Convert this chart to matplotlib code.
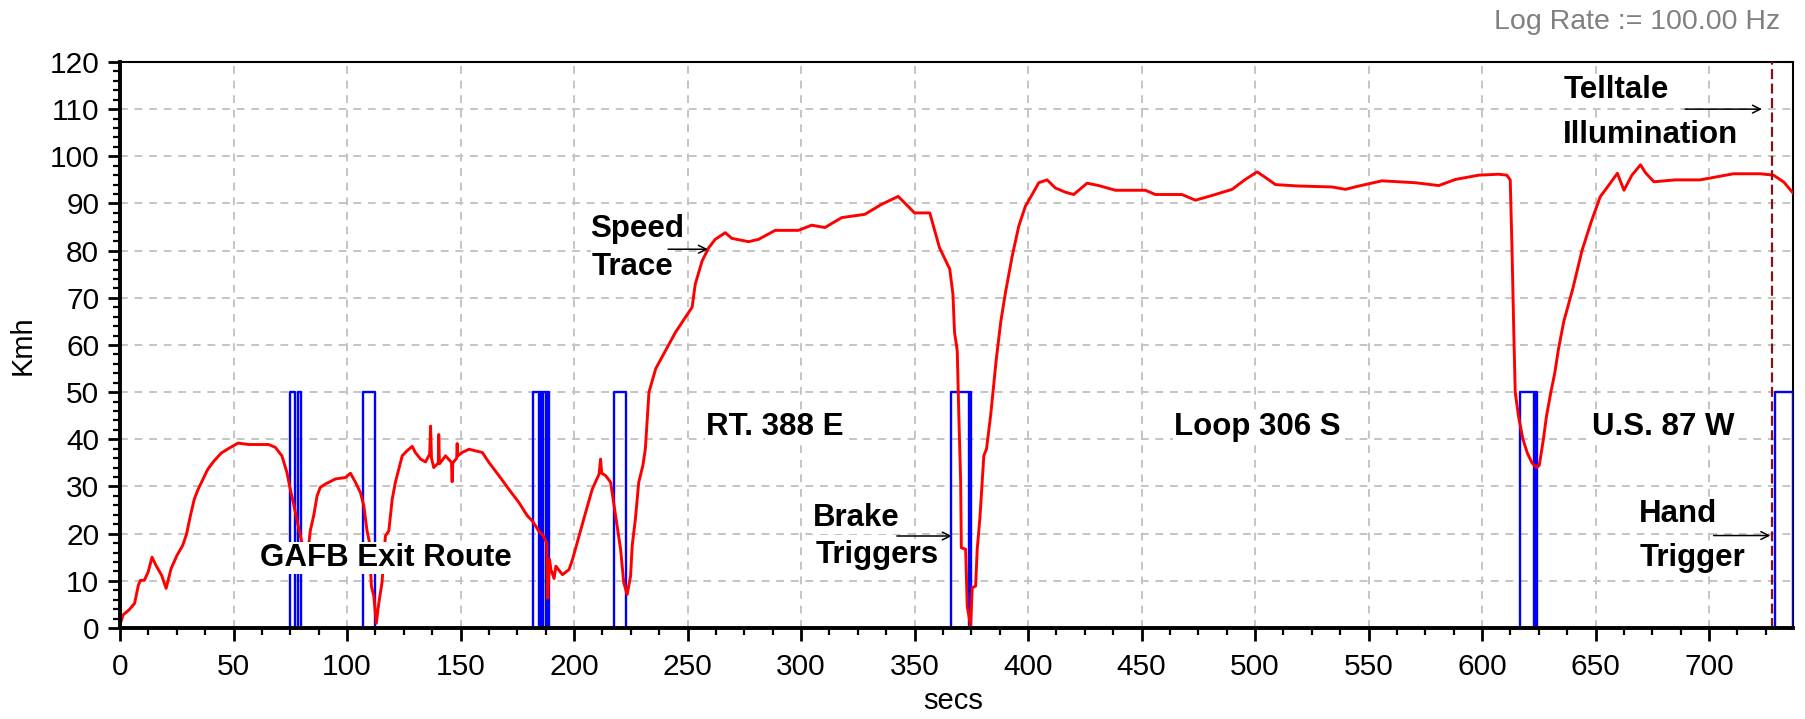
import numpy as np
import matplotlib.pyplot as plt
from matplotlib.ticker import MultipleLocator

plt.rcParams['font.family'] = ['Liberation Sans', 'DejaVu Sans']

# speed trace (secs, Kmh)
speed_t = [0, 1.4, 3.9, 6.4, 8.1, 9, 10.7, 12.4, 14.1, 15.8, 18.3, 20.3, 22.5, 25.1, 27.6,
           29.3, 31, 32.7, 34.4, 36.1, 38.6, 41.2, 44.6, 48, 52, 56.6, 65.4, 68.4, 71.3,
           73.5, 75, 76, 78.2, 79.5, 81.5, 83, 83.8, 85.3, 86.8, 88.2, 90.4, 94.9, 99.3,
           101.5, 103.7, 105.9, 107.4, 108.8, 109.9, 110.7, 111.8, 112.9, 114, 115.4,
           116.9, 118.4, 119.9, 121.3, 122.8, 124.3, 126.5, 128.7, 130.1, 132.4, 134.6,
           136.4, 136.8, 137.2, 138.2, 140.2, 140.4, 140.7, 143.4, 146.0, 146.3, 146.6,
           148.3, 148.5, 148.8, 150.7, 153.7, 159.6, 162.5, 166.9, 171.3, 175.7, 179.4,
           181.6, 183.1, 184.5, 185.5, 186.5, 188.0, 188.4, 189.2, 189.8, 191.2, 192,
           194.9, 197.8, 199.3, 202.2, 205.1, 208, 211, 211.7, 212.2, 213.9, 216.1,
           218.3, 220.5, 221.9, 223.4, 224.9, 225.6, 227, 228.5, 230.3, 231.4, 233, 236,
           240.3, 244.7, 249, 252, 253.4, 256.4, 259.3, 262.2, 266.6, 269.5, 276.9,
           281.3, 288.6, 298.8, 304.7, 310.5, 317.9, 328.1, 335.4, 342.8, 350, 356.7,
           361, 365.5, 366.9, 367.6, 368.8, 369.5, 370.3, 370.6, 372.5, 373.2, 374.7,
           375.4, 376.9, 377.6, 378.8, 380.5, 381.7, 383.5, 386, 388, 390, 393, 395.9,
           398.8, 401.8, 404.7, 408.4, 412, 416.4, 420.1, 426, 431.1, 438.5, 451.7,
           456.1, 467.8, 473.7, 481.1, 489.9, 495.7, 500.9, 504.6, 509, 519.2, 533.9,
           539.8, 545.7, 555.9, 570.6, 580.9, 588.3, 598.5, 607.3, 610.9, 612.4, 613.2,
           614, 614.6, 616, 618, 620, 622, 624, 625.2, 627, 628.4, 630.3, 632, 633.6,
           636, 640, 644, 648, 652, 656, 659.6, 662.5, 666, 669.8, 672, 675.7, 685, 696,
           710.8, 722.5, 728.4, 733, 737]
speed_v = [0.7, 2.8, 3.8, 5.2, 9.1, 10.1, 10.1, 11.9, 15, 13.3, 11.2, 8.4, 12.6, 15.4, 17.5,
           19.9, 23.8, 27.3, 29.4, 31.1, 33.6, 35.3, 37.1, 38.1, 39.2, 38.9, 38.9, 38.3,
           36.5, 33, 29.4, 27.3, 22.3, 19.5, 15, 17, 20.6, 23.8, 28, 29.8, 30.5, 31.6,
           31.9, 32.8, 30.9, 28.7, 25.9, 20.6, 18.1, 8.9, 6.7, 1, 5.3, 9.6, 19.5, 20.6,
           27.3, 30.9, 33.7, 36.5, 37.6, 38.5, 37.2, 35.8, 35.2, 36.9, 42.8, 36, 34, 35,
           41, 34.8, 36.5, 35.1, 31, 35, 36, 39.1, 36.5, 37.2, 37.9, 37.2, 35.1, 32.3,
           29.4, 26.6, 23.8, 22.7, 21.6, 20.5, 20, 19.5, 18, 6.3, 14.5, 12.4, 10.5, 13.1,
           11.3, 12.4, 14.5, 19.5, 24.5, 29.4, 32.6, 35.8, 32.8, 32.3, 30.9, 23.8, 16.7,
           9.6, 7.1, 11, 17.4, 23, 30.9, 34.4, 37.9, 50, 55, 58.8, 62.7, 65.8, 68, 72.9,
           77.8, 80.6, 82.4, 83.8, 82.6, 81.9, 82.4, 84.3, 84.3, 85.4, 84.9, 87, 87.7,
           89.8, 91.5, 88, 88, 80.6, 76.1, 70.8, 62.7, 58.8, 45, 31.2, 17, 16.7, 4.6,
           0.4, 8.5, 8.9, 16.7, 23.4, 36.5, 38, 45, 57, 65, 71, 78.8, 85.2, 89.4, 91.9,
           94.4, 95, 93.3, 92.4, 91.9, 94.3, 93.8, 92.8, 92.8, 91.9, 91.9, 90.7, 91.7,
           93, 95.1, 96.7, 95.5, 94, 93.7, 93.5, 93, 93.7, 94.8, 94.4, 93.8, 95.1, 96,
           96.2, 96, 95, 80, 62, 50, 45, 40, 37, 35, 34, 34.5, 40, 45, 50, 54, 59, 65, 72,
           80, 86, 91.4, 94, 96.4, 92.8, 96, 98.2, 96.5, 94.6, 95, 95, 96.3, 96.3, 96,
           94.5, 92.2]

# trigger pulses (0 -> 50 -> 0)
pulse_on = [74.8, 78.3, 107.1, 182.0, 185.0, 186.5, 188.0, 217.7, 366.0, 374.3,
            616.6, 623.2, 729.0]
pulse_off = [77.2, 79.8, 112.1, 184.5, 186.0, 187.5, 189.0, 222.7, 374.0, 374.9,
             622.9, 624.2, 736.8]
pulse_high = 50
telltale_t = 727.8

px, py = [], []
for a, b in zip(pulse_on, pulse_off):
    px += [a, a, b, b, np.nan]
    py += [0, pulse_high, pulse_high, 0, np.nan]

fig = plt.figure(figsize=(18.05, 7.19), dpi=100)
ax = fig.add_axes([0.0665, 0.1266, 0.9269, 0.7872])

ax.plot(px, py, color='#0000ff', lw=1.7, zorder=3)
ax.plot(speed_t, speed_v, color='#ff0000', lw=2.1, zorder=4)
ax.axvline(telltale_t, color='#8b1010', lw=1.6, ls=(0, (4.5, 2)), zorder=5)

ax.set_xlim(0, 737)
ax.set_ylim(0, 120)
ax.xaxis.set_major_locator(MultipleLocator(50))
ax.xaxis.set_minor_locator(MultipleLocator(12.5))
ax.yaxis.set_major_locator(MultipleLocator(10))
ax.yaxis.set_minor_locator(MultipleLocator(2))
ax.grid(True, which='major', color='#c4c4c4', lw=1.4, ls=(0, (4, 3.5)))
ax.set_axisbelow(True)

ax.tick_params(which='major', direction='out', length=9, width=2, labelsize=21.5)
ax.tick_params(axis='x', which='major', pad=9)
ax.tick_params(axis='y', which='major', pad=6)
ax.tick_params(which='minor', direction='out', length=5, width=1.6)
for side in ['left', 'bottom']:
    ax.spines[side].set_linewidth(2.8)
    ax.spines[side].set_zorder(6)
for side in ['top', 'right']:
    ax.spines[side].set_linewidth(1.5)

ax.set_xlabel('secs', fontsize=21)
ax.set_ylabel('Kmh', fontsize=21)
ax.xaxis.set_label_coords(0.498, -0.105)
ax.yaxis.set_label_coords(-0.050, 0.5)

fig.text(0.986, 0.969, 'Log Rate := 100.00 Hz', ha='right', va='center',
         color='#808080', fontsize=20.5)

box = dict(facecolor='white', edgecolor='none', pad=1)
lab = dict(fontsize=22.5, fontweight='bold', va='center', bbox=box, zorder=6)

ax.text(61.7, 14.8, 'GAFB Exit Route', ha='left', **lab)
ax.text(288.5, 42.6, 'RT. 388 E', ha='center', **lab)
ax.text(501, 42.6, 'Loop 306 S', ha='center', **lab)
ax.text(680, 42.6, 'U.S. 87 W', ha='center', **lab)

ax.text(207.0, 84.6, 'Speed', ha='left', **lab)
ax.text(207.8, 76.6, 'Trace', ha='left', **lab)
ax.text(305.3, 23.4, 'Brake', ha='left', **lab)
ax.text(306.2, 15.4, 'Triggers', ha='left', **lab)
ax.text(635.8, 114.1, 'Telltale', ha='left', **lab)
ax.text(635.8, 104.6, 'Illumination', ha='left', **lab)
ax.text(668.9, 24.2, 'Hand', ha='left', **lab)
ax.text(669.3, 14.8, 'Trigger', ha='left', **lab)

arrow = dict(arrowstyle='->', color='black', lw=1.1, shrinkA=0, shrinkB=0,
             mutation_scale=14)
ax.annotate('', xy=(259, 80.3), xytext=(241.4, 80.3), arrowprops=arrow, zorder=7)
ax.annotate('', xy=(366.4, 19.5), xytext=(342.2, 19.5), arrowprops=arrow, zorder=7)
ax.annotate('', xy=(723.3, 110), xytext=(689.5, 110), arrowprops=arrow, zorder=7)
ax.annotate('', xy=(727, 19.6), xytext=(702, 19.6), arrowprops=arrow, zorder=7)

fig.savefig('out.png', dpi=100)
